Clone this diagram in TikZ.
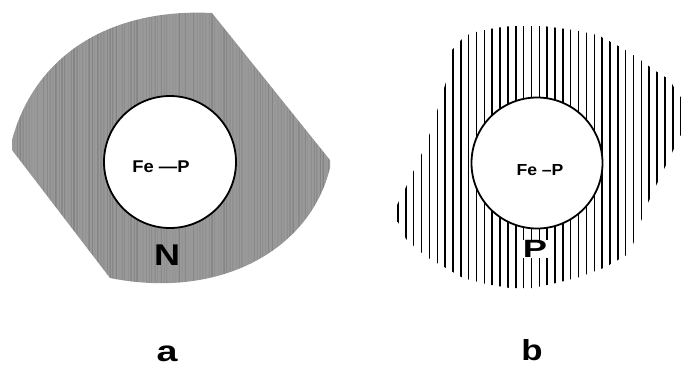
\documentclass[tikz,border=0pt]{standalone}
\usepackage{fontspec}
\setmainfont{Liberation Sans}
\definecolor{shade}{HTML}{9A9A9A}
\begin{document}
\begin{tikzpicture}[x=1pt,y=-1pt,
  ring/.style={draw=black,line width=1.8pt,fill=white},
  lbl/.style={font=\bfseries,inner sep=0pt},
  hatch/.style={line width=1.5pt,black}]
\useasboundingbox (0,0) rectangle (686,368);
% ---------- panel a ----------
\path[fill=shade] (12,150) -- (12,140) .. controls (35,55) and (110,8) .. (212,13)
  -- (330,160) -- (330,168) .. controls (310,250) and (220,300) .. (110,278) -- cycle;
\begin{scope}
\clip (12,150) -- (12,140) .. controls (35,55) and (110,8) .. (212,13)
  -- (330,160) -- (330,168) .. controls (310,250) and (220,300) .. (110,278) -- cycle;
\pgfmathsetseed{7}
\foreach \i in {0,...,212}{
  \pgfmathsetmacro{\xx}{10+1.5*\i}
  \pgfmathsetmacro{\op}{0.01+0.14*rnd^2}
  \draw[black,opacity=\op,line width=0.8pt] (\xx,0) -- (\xx,300);
}
\end{scope}
\node[ring,circle,minimum size=132pt,inner sep=0pt] (ca) at (170,162) {};
\node[lbl,font=\bfseries\fontsize{17}{17}\selectfont,xscale=1.08] (fea) at (161,167) {Fe —P};
\node[lbl,font=\bfseries\fontsize{30}{30}\selectfont,xscale=1.2] (n) at (167,255) {N};
\node[lbl,font=\bfseries\fontsize{29}{29}\selectfont,xscale=1.3] (la) at (167,354) {a};
% ---------- panel b ----------
\begin{scope}
\clip (390,220) -- (398,203) -- (406,187) -- (414,170) -- (422,153) -- (430,133)
  -- (438,108) -- (446,82) -- (452,50) -- (463,38) -- (471,33) -- (495,28)
  -- (511,26) -- (543,26) -- (574,30) -- (598,35) -- (622,48) -- (638,58)
  -- (654,70) -- (670,80) -- (677,93) -- (686,102) -- (688,115) -- (686,127)
  -- (678,140) -- (670,157) -- (662,173) -- (654,190) -- (646,207) -- (638,230)
  -- (630,253) -- (606,267) -- (580,277) -- (556,283) -- (533,288) -- (510,288)
  -- (486,284) -- (463,278) -- (446,268) -- (430,259) -- (422,253) -- (414,246)
  -- (406,239) -- (398,222) -- cycle;
\foreach \i in {0,...,37}{
  \pgfmathsetmacro{\xx}{398+7.85*\i}
  \draw[hatch] (\xx,0) -- (\xx,300);
}
\end{scope}
\node[ring,circle,minimum size=131pt,inner sep=0pt] (cb) at (537,163) {};
\node[lbl,font=\bfseries\fontsize{16}{16}\selectfont,xscale=1.1] (feb) at (540,170) {Fe –P};
\node[lbl,font=\bfseries\fontsize{25}{25}\selectfont,xscale=1.45,fill=white,inner xsep=0.5pt] (p) at (535,249) {P};
\node[lbl,font=\bfseries\fontsize{29}{29}\selectfont,xscale=1.2] (lb) at (532,350) {b};
\end{tikzpicture}
\end{document}
